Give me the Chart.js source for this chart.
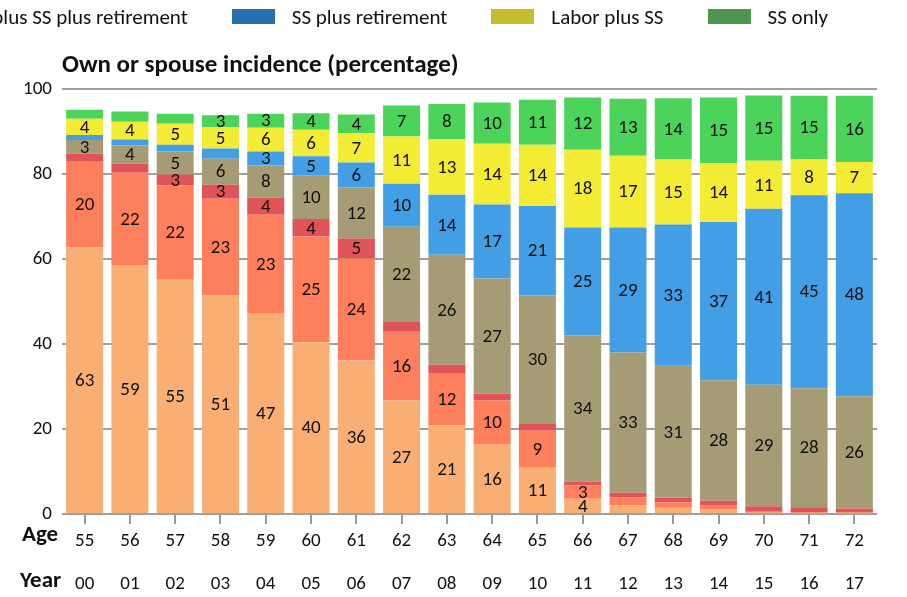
<!DOCTYPE html>
<html>
<head>
<meta charset="utf-8">
<script src="https://cdn.jsdelivr.net/npm/chart.js@4"></script>
<style>
  body { margin: 0; overflow: hidden; background: #fff; }
  #wrap { position: relative; width: 907px; height: 597px; overflow: hidden; }
  #legend {
    position: absolute; top: 9px; right: 79px;
    display: flex; white-space: nowrap;
    font: 21px Carlito, Lato, sans-serif; color: #111;
  }
  #legend .item { display: flex; align-items: center; height: 15px; margin-left: 44px; }
  #legend .sw { display: inline-block; width: 43px; height: 15px; margin-right: 17px; }
</style>
</head>
<body>
<div id="wrap">
  <canvas id="chart" width="907" height="597"></canvas>
  <div id="legend"></div>
</div>
<script>
// categories
const ages = ["55", "56", "57", "58", "59", "60", "61", "62", "63", "64", "65", "66", "67", "68", "69", "70", "71", "72"];
const years = ["00", "01", "02", "03", "04", "05", "06", "07", "08", "09", "10", "11", "12", "13", "14", "15", "16", "17"];

// series, bottom of the stack first (percent)
const laborOnly = [62.7, 58.6, 55.1, 51.4, 47.1, 40.4, 36.1, 26.7, 20.8, 16.3, 10.9, 3.6, 2.0, 1.5, 1.0, 0.3, 0.2, 0.2];
const laborPlusRetirement = [20.2, 21.7, 22.2, 22.8, 23.3, 24.9, 24.0, 16.2, 12.4, 10.4, 8.7, 3.1, 1.9, 1.2, 1.0, 0.4, 0.2, 0.2];
const retirementOnly = [1.9, 2.1, 2.6, 3.3, 4.0, 4.1, 4.7, 2.3, 1.9, 1.6, 1.6, 0.9, 1.1, 1.1, 1.1, 1.1, 1.2, 0.9];
const laborSsRetirement = [3.2, 4.3, 5.4, 6.1, 7.6, 10.2, 12.0, 22.4, 25.9, 27.1, 30.2, 34.4, 33.0, 31.1, 28.4, 28.6, 28.0, 26.4];
const ssPlusRetirement = [1.2, 1.4, 1.6, 2.4, 3.3, 4.6, 5.9, 10.1, 14.1, 17.4, 21.1, 25.4, 29.4, 33.2, 37.2, 41.4, 45.4, 47.8];
const laborPlusSs = [3.8, 4.2, 4.9, 5.0, 5.6, 6.2, 6.9, 11.1, 13.0, 14.3, 14.4, 18.3, 16.9, 15.3, 13.9, 11.3, 8.4, 7.3];
const ssOnly = [2.1, 2.4, 2.4, 2.8, 3.3, 3.9, 4.4, 7.3, 8.4, 9.7, 10.6, 12.3, 13.4, 14.4, 15.4, 15.4, 15.0, 15.6];

const seriesNames = ["Labor only", "Labor plus retirement", "Retirement only", "Labor plus SS plus retirement", "SS plus retirement", "Labor plus SS", "SS only"];
const seriesData = [laborOnly, laborPlusRetirement, retirementOnly, laborSsRetirement, ssPlusRetirement, laborPlusSs, ssOnly];
const barColors = ["#f9ae74", "#fd7f5b", "#e05358", "#a59c76", "#439fe5", "#f4ec34", "#4cd35a"];
const legendColors = ["#e8873a", "#d8603c", "#b8393c", "#857c55", "#2a6fad", "#c4bd2e", "#4e9451"];

const FONT = "Carlito, Lato, sans-serif";

// legend (wider than the page, so its left end is cut off)
const legendEl = document.getElementById("legend");
seriesNames.forEach((name, i) => {
  const item = document.createElement("span");
  item.className = "item";
  item.innerHTML = '<span class="sw" style="background:' + legendColors[i] + '"></span>' + name;
  legendEl.appendChild(item);
});

// numbers inside the stacked segments
const segmentLabels = {
  id: "segmentLabels",
  afterDatasetsDraw(chart) {
    const ctx = chart.ctx;
    ctx.save();
    ctx.font = "19px " + FONT;
    ctx.fillStyle = "#111";
    ctx.textAlign = "center";
    ctx.textBaseline = "middle";
    chart.data.datasets.forEach((ds, i) => {
      chart.getDatasetMeta(i).data.forEach((bar, j) => {
        const v = ds.data[j];
        if (v < 2.5) return;
        const p = bar.getProps(["x", "y", "base"], true);
        ctx.fillText(String(Math.round(v)), p.x, (p.y + p.base) / 2 + 1);
      });
    });
    ctx.restore();
  }
};

// "Age" / "Year" row headers
const rowHeaders = {
  id: "rowHeaders",
  afterDraw(chart) {
    const ctx = chart.ctx;
    const ageY = chart.scales.x.top + 10 + 6 + 11.4;
    const yearY = chart.scales.x2.top + 19 + 11.4;
    ctx.save();
    ctx.font = "bold 23px " + FONT;
    ctx.fillStyle = "#111";
    ctx.textAlign = "left";
    ctx.textBaseline = "alphabetic";
    ctx.fillText("Age", 22, ageY);
    ctx.fillText("Year", 20, yearY + 3);
    ctx.restore();
  }
};

new Chart(document.getElementById("chart"), {
  type: "bar",
  data: {
    labels: ages,
    datasets: seriesData.map((d, i) => ({
      label: seriesNames[i],
      data: d,
      backgroundColor: barColors[i],
      borderWidth: 0,
      categoryPercentage: 1,
      barPercentage: 0.817,
    })),
  },
  options: {
    responsive: false,
    animation: false,
    layout: { padding: { top: 40, left: 22, right: 30, bottom: 2 } },
    plugins: {
      legend: { display: false },
      tooltip: { enabled: false },
      title: {
        display: true,
        text: "Own or spouse incidence (percentage)",
        align: "start",
        fullSize: false,
        color: "#111",
        font: { family: FONT, size: 25, weight: "bold", lineHeight: 1.2 },
        padding: { top: 11, bottom: 8 },
      },
    },
    scales: {
      x: {
        stacked: true,
        border: { display: false },
        grid: { drawOnChartArea: false, offset: false, tickLength: 10, color: "#999", lineWidth: 2 },
        ticks: { color: "#111", padding: 6, font: { family: FONT, size: 19 } },
        afterFit: (s) => { s.height = 40; },
      },
      x2: {
        type: "category",
        labels: years,
        position: "bottom",
        offset: true,
        border: { display: false },
        grid: { display: false, drawTicks: false },
        ticks: { color: "#111", padding: 19, font: { family: FONT, size: 19 } },
        afterFit: (s) => { s.height = 41; },
      },
      y: {
        stacked: true,
        min: 0,
        max: 100,
        border: { display: false },
        grid: { color: "#a0a0a0", lineWidth: 2, drawTicks: false },
        ticks: { stepSize: 20, color: "#111", padding: 10, font: { family: FONT, size: 19 } },
        afterFit: (s) => { s.width = 40; },
      },
    },
  },
  plugins: [segmentLabels, rowHeaders],
});
</script>
</body>
</html>
